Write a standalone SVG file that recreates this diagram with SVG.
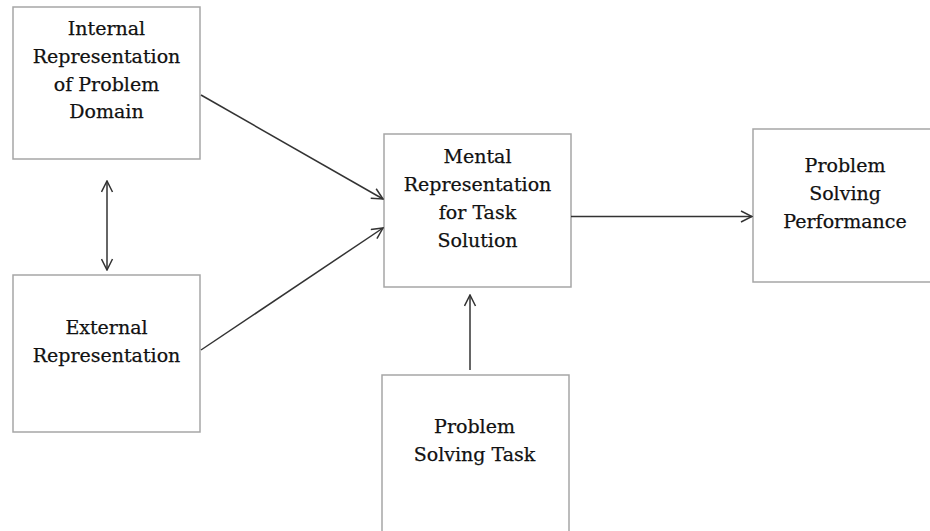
<svg xmlns="http://www.w3.org/2000/svg" width="930" height="531" viewBox="0 0 930 531">
  <style>
    .box { fill: #ffffff; stroke: #a6a6a6; stroke-width: 1.5; }
    .label { font-family: "DejaVu Serif", "Liberation Serif", serif; font-size: 19px; fill: #111111; stroke: #111111; stroke-width: 0.25; text-anchor: middle; }
    .edge { fill: none; stroke: #333333; stroke-width: 1.5; }
  </style>
  <defs>
    <marker id="arrow" viewBox="0 0 13 13" refX="12" refY="6.5" markerWidth="13" markerHeight="13" markerUnits="userSpaceOnUse" orient="auto-start-reverse">
      <path d="M1,1 L12,6.5 L1,12" fill="none" stroke="#333333" stroke-width="1.5"/>
    </marker>
  </defs>
  <rect width="930" height="531" fill="#ffffff"/>

  <g id="internal-representation">
    <rect class="box" x="13" y="7" width="187" height="152"/>
    <text class="label" x="106.5" y="35">Internal</text>
    <text class="label" x="106.5" y="63">Representation</text>
    <text class="label" x="106.5" y="91">of Problem</text>
    <text class="label" x="106.5" y="118">Domain</text>
  </g>

  <g id="external-representation">
    <rect class="box" x="13" y="275" width="187" height="157"/>
    <text class="label" x="106.5" y="334">External</text>
    <text class="label" x="106.5" y="362">Representation</text>
  </g>

  <g id="mental-representation">
    <rect class="box" x="384" y="134" width="187" height="153"/>
    <text class="label" x="477.5" y="163">Mental</text>
    <text class="label" x="477.5" y="191">Representation</text>
    <text class="label" x="477.5" y="219">for Task</text>
    <text class="label" x="477.5" y="247">Solution</text>
  </g>

  <g id="problem-solving-performance">
    <rect class="box" x="753" y="129" width="180" height="153"/>
    <text class="label" x="845" y="172">Problem</text>
    <text class="label" x="845" y="200">Solving</text>
    <text class="label" x="845" y="228">Performance</text>
  </g>

  <g id="problem-solving-task">
    <rect class="box" x="382" y="375" width="187" height="160"/>
    <text class="label" x="474.5" y="433">Problem</text>
    <text class="label" x="474.5" y="461">Solving Task</text>
  </g>

  <g id="connectors">
    <line class="edge" x1="107" y1="181" x2="107" y2="270" marker-start="url(#arrow)" marker-end="url(#arrow)"/>
    <line class="edge" x1="201" y1="95" x2="383" y2="199" marker-end="url(#arrow)"/>
    <line class="edge" x1="201" y1="350" x2="383" y2="228" marker-end="url(#arrow)"/>
    <line class="edge" x1="571" y1="216.5" x2="752" y2="216.5" marker-end="url(#arrow)"/>
    <line class="edge" x1="470" y1="370" x2="470" y2="295" marker-end="url(#arrow)"/>
  </g>
</svg>
